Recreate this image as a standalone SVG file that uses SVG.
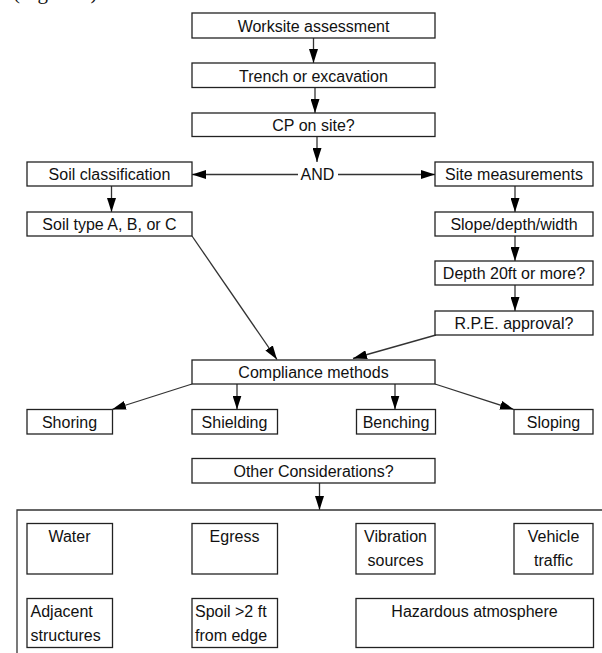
<svg xmlns="http://www.w3.org/2000/svg" width="602" height="653" viewBox="0 0 602 653">
<style>
  .box { fill: #fff; stroke: #222; stroke-width: 1.3; }
  .t { font-family: "Liberation Sans", Arial, sans-serif; font-size: 16px; fill: #111; text-anchor: middle; }
  .tl { font-family: "Liberation Sans", Arial, sans-serif; font-size: 16px; fill: #111; text-anchor: start; }
  .c { fill: none; stroke: #333; stroke-width: 1.3; marker-end: url(#ah); }
  .cap { font-family: "Liberation Serif", "Times New Roman", serif; font-size: 21px; fill: #111; }
</style>
<defs>
  <marker id="ah" viewBox="0 0 14 9" refX="14" refY="4.5" markerWidth="14" markerHeight="9" markerUnits="userSpaceOnUse" orient="auto">
    <path d="M0,0 L14,4.5 L0,9 z" fill="#000"/>
  </marker>
</defs>
<rect width="602" height="653" fill="#fff"/>
<text class="cap" x="13" y="-1.5">(Figure 1)</text>

<g id="connectors">
  <line class="c" x1="313.5" y1="38" x2="313.5" y2="63"/>
  <line class="c" x1="315" y1="87" x2="315" y2="113"/>
  <line class="c" x1="317" y1="137" x2="317" y2="162"/>
  <line class="c" x1="298" y1="174.5" x2="192" y2="174.5"/>
  <line class="c" x1="338" y1="174.5" x2="435" y2="174.5"/>
  <line class="c" x1="111.5" y1="186" x2="111.5" y2="212"/>
  <line class="c" x1="515" y1="186" x2="515" y2="212"/>
  <line class="c" x1="515" y1="236" x2="515" y2="261"/>
  <line class="c" x1="515" y1="285" x2="515" y2="311"/>
  <line class="c" x1="192" y1="236" x2="277" y2="359.5"/>
  <line class="c" x1="436" y1="335" x2="353" y2="358.5"/>
  <line class="c" x1="192" y1="384" x2="112" y2="409.5"/>
  <line class="c" x1="237" y1="384" x2="237" y2="409.5"/>
  <line class="c" x1="395" y1="384" x2="395" y2="409.5"/>
  <line class="c" x1="435" y1="384" x2="514" y2="409.5"/>
  <line class="c" x1="319.5" y1="483" x2="319.5" y2="510"/>
</g>

<g id="n-worksite"><rect class="box" x="192" y="13" width="243" height="25"/><text class="t" x="313.5" y="31.5">Worksite assessment</text></g>
<g id="n-trench"><rect class="box" x="192" y="63" width="243" height="24.5"/><text class="t" x="313.5" y="81.5">Trench or excavation</text></g>
<g id="n-cp"><rect class="box" x="192" y="113" width="243" height="23.5"/><text class="t" x="313.5" y="131">CP on site?</text></g>
<g id="n-and"><text class="t" x="317.5" y="179.5">AND</text></g>
<g id="n-soilclass"><rect class="box" x="27" y="162" width="165" height="24"/><text class="t" x="109.5" y="180">Soil classification</text></g>
<g id="n-soiltype"><rect class="box" x="27" y="212" width="165" height="24"/><text class="t" x="109.5" y="230">Soil type A, B, or C</text></g>
<g id="n-sitemeas"><rect class="box" x="435" y="162" width="158" height="24"/><text class="t" x="514" y="180">Site measurements</text></g>
<g id="n-slope"><rect class="box" x="435" y="212" width="158" height="24"/><text class="t" x="514" y="230">Slope/depth/width</text></g>
<g id="n-depth"><rect class="box" x="435" y="261" width="158" height="24"/><text class="t" x="514" y="279">Depth 20ft or more?</text></g>
<g id="n-rpe"><rect class="box" x="435" y="311" width="158" height="24"/><text class="t" x="514" y="329">R.P.E. approval?</text></g>
<g id="n-compliance"><rect class="box" x="192" y="360" width="243" height="24"/><text class="t" x="313.5" y="378">Compliance methods</text></g>
<g id="n-shoring"><rect class="box" x="27" y="409.5" width="85.5" height="24.5"/><text class="t" x="69.5" y="428">Shoring</text></g>
<g id="n-shielding"><rect class="box" x="192" y="409.5" width="85.5" height="24.5"/><text class="t" x="234.5" y="428">Shielding</text></g>
<g id="n-benching"><rect class="box" x="356.5" y="409.5" width="79" height="24.5"/><text class="t" x="396" y="428">Benching</text></g>
<g id="n-sloping"><rect class="box" x="514" y="409.5" width="79" height="24.5"/><text class="t" x="553.5" y="428">Sloping</text></g>
<g id="n-other"><rect class="box" x="192" y="458.5" width="243" height="24.5"/><text class="t" x="313.5" y="477">Other Considerations?</text></g>

<g id="n-container"><path d="M17,660 V510 H610" fill="none" stroke="#333" stroke-width="1.3"/></g>
<g id="n-water"><rect class="box" x="27" y="523.5" width="85.5" height="50.5"/><text class="t" x="69.5" y="542">Water</text></g>
<g id="n-egress"><rect class="box" x="192" y="523.5" width="85.5" height="50.5"/><text class="t" x="234.5" y="542">Egress</text></g>
<g id="n-vibration"><rect class="box" x="356" y="523.5" width="79" height="50.5"/><text class="t" x="395.5" y="542">Vibration</text><text class="t" x="395.5" y="566">sources</text></g>
<g id="n-vehicle"><rect class="box" x="514" y="523.5" width="79" height="50.5"/><text class="t" x="553.5" y="542">Vehicle</text><text class="t" x="553.5" y="566">traffic</text></g>
<g id="n-adjacent"><rect class="box" x="27" y="598.5" width="85.5" height="49"/><text class="tl" x="30.5" y="617">Adjacent</text><text class="tl" x="30.5" y="640.5">structures</text></g>
<g id="n-spoil"><rect class="box" x="192" y="598.5" width="85.5" height="49"/><text class="tl" x="195" y="617">Spoil &gt;2 ft</text><text class="tl" x="195" y="640.5">from edge</text></g>
<g id="n-hazard"><rect class="box" x="356" y="598.5" width="237.5" height="49"/><text class="t" x="474.5" y="617">Hazardous atmosphere</text></g>
</svg>
